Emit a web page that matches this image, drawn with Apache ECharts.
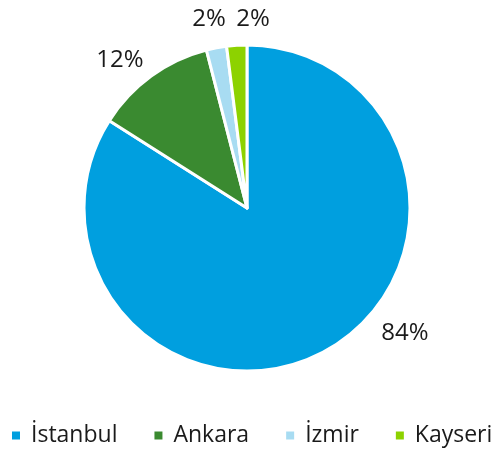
<!DOCTYPE html>
<html>
<head>
<meta charset="utf-8">
<script src="https://cdn.jsdelivr.net/npm/echarts@6/dist/echarts.min.js"></script>
<style>html,body{margin:0;padding:0;background:#fff;}#c{width:495px;height:450px;}</style>
</head>
<body>
<div id="c"></div>
<script>
const categories = ['İstanbul', 'Ankara', 'İzmir', 'Kayseri'];
const shares = [84, 12, 2, 2];
const colors = ['#009FDF', '#3A8A30', '#A8DCF2', '#8DD200'];
const labelSpots = [[405, 333], [120, 60], [209, 19], [253, 19]];

const chart = echarts.init(document.getElementById('c'));
chart.setOption({
  animation: false,
  color: colors,
  legend: {
    top: 424,
    left: 10,
    width: 485,
    padding: 0,
    icon: 'rect',
    itemWidth: 10,
    itemHeight: 10,
    itemGap: 35,
    textStyle: { fontFamily: 'Open Sans', fontSize: 23, color: '#1a1a1a', padding: [0, 0, 0, 5] },
    data: categories
  },
  series: [{
    type: 'pie',
    center: [247, 208],
    radius: [0, 163],
    startAngle: 90,
    clockwise: true,
    data: categories.map((n, i) => ({ name: n, value: shares[i] })),
    itemStyle: { borderColor: '#fff', borderWidth: 3 },
    label: {
      show: true,
      position: 'outside',
      formatter: '{c}%',
      fontFamily: 'Open Sans',
      fontSize: 24,
      color: '#1a1a1a'
    },
    labelLine: { show: false },
    labelLayout: function (p) {
      const s = labelSpots[p.dataIndex];
      return { x: s[0], y: s[1], align: 'center', verticalAlign: 'middle' };
    }
  }]
});
</script>
</body>
</html>
